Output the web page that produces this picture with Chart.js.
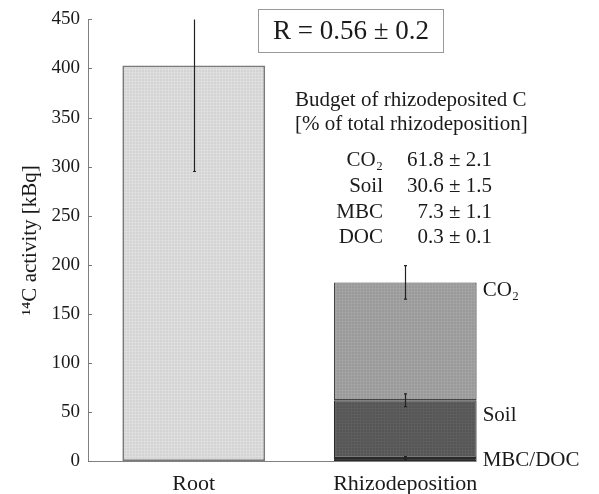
<!DOCTYPE html>
<html>
<head>
<meta charset="utf-8">
<script src="https://cdn.jsdelivr.net/npm/chart.js@4/dist/chart.umd.min.js"></script>
<style>
html,body{margin:0;padding:0;background:#fff;}
#wrap{width:599px;height:494px;position:relative;}
</style>
</head>
<body>
<div id="wrap"><canvas id="c" width="599" height="494"></canvas></div>
<script>
// ---- data ----
const categories = ["Root", "Rhizodeposition"];
const rootValues = [403, 0];
const mbcDocValues = [0, 3];
const soilValues = [0, 59];
const co2Values = [0, 120];
// error bars: [category index, top value of segment, +/- error]
const errorBars = [
  [0, 403, 108],
  [1, 182, 17],
  [1, 62, 6.5],
  [1, 3, 1.5]
];
const yTicks = [0, 50, 100, 150, 200, 250, 300, 350, 400, 450];
const rText = "R = 0.56 ± 0.2";
const budgetTitle = ["Budget of rhizodeposited C", "[% of total rhizodeposition]"];
const budgetNames = ["CO₂", "Soil", "MBC", "DOC"];
const budgetValues = ["61.8 ± 2.1", "30.6 ± 1.5", "7.3 ± 1.1", "0.3 ± 0.1"];
const segmentLabels = [["CO₂", 182], ["Soil", 62], ["MBC/DOC", 3]];

const SERIF = "'Liberation Serif', 'Times New Roman', serif";

function pattern(base, line) {
  const p = document.createElement('canvas');
  p.width = 3; p.height = 3;
  const g = p.getContext('2d');
  g.fillStyle = base; g.fillRect(0, 0, 3, 3);
  g.fillStyle = line; g.fillRect(0, 0, 3, 1); g.fillRect(0, 0, 1, 3);
  return g.createPattern(p, 'repeat');
}
const ctx0 = document.getElementById('c').getContext('2d');

const overlay = {
  id: 'overlay',
  beforeDatasetsDraw(chart) {
    const ctx = chart.ctx, a = chart.chartArea;
    const bar = chart.getDatasetMeta(3).data[1];
    ctx.save();
    ctx.strokeStyle = '#808080'; ctx.lineWidth = 1;
    ctx.beginPath();
    ctx.moveTo(a.left, a.bottom + 0.5);
    ctx.lineTo(bar.x + bar.width / 2, a.bottom + 0.5);
    ctx.stroke();
    ctx.restore();
  },
  afterDatasetsDraw(chart) {
    const ctx = chart.ctx, x = chart.scales.x, y = chart.scales.y, a = chart.chartArea;
    const bar = chart.getDatasetMeta(3).data[1];
    // inward y ticks
    ctx.save();
    ctx.strokeStyle = '#777'; ctx.lineWidth = 1;
    yTicks.forEach(v => {
      const py = Math.round(y.getPixelForValue(v)) + 0.5;
      ctx.beginPath(); ctx.moveTo(a.left, py); ctx.lineTo(a.left + 4, py); ctx.stroke();
    });
    ctx.restore();
    // error bars
    ctx.save();
    ctx.beginPath(); ctx.rect(a.left, a.top, a.right - a.left, a.bottom - a.top + 2); ctx.clip();
    ctx.strokeStyle = '#222'; ctx.lineWidth = 1.2;
    errorBars.forEach(([i, v, e]) => {
      const px = Math.round(x.getPixelForValue(i)) + 0.5;
      const y1 = y.getPixelForValue(v + e), y2 = y.getPixelForValue(v - e);
      ctx.beginPath(); ctx.moveTo(px, y1); ctx.lineTo(px, y2);
      ctx.moveTo(px - 1.5, y1); ctx.lineTo(px + 1.5, y1);
      ctx.moveTo(px - 1.5, y2); ctx.lineTo(px + 1.5, y2);
      ctx.stroke();
    });
    ctx.restore();
    // texts
    ctx.save();
    ctx.textBaseline = 'middle';
    // R box
    ctx.fillStyle = '#fff';
    ctx.fillRect(258, 9, 185, 43);
    ctx.strokeStyle = '#999'; ctx.lineWidth = 1;
    ctx.strokeRect(258.5, 9.5, 185, 43);
    ctx.fillStyle = '#1a1a1a';
    ctx.font = "27px " + SERIF;
    ctx.textAlign = 'center';
    ctx.fillText(rText, 351, 32);
    // budget
    ctx.font = "21px " + SERIF;
    ctx.textAlign = 'left';
    ctx.fillText(budgetTitle[0], 295, 100);
    ctx.fillText(budgetTitle[1], 295, 124);
    const rowsY = [160, 186, 212, 237];
    budgetNames.forEach((n, k) => {
      ctx.textAlign = 'right';
      ctx.fillText(n, 383, rowsY[k]);
      ctx.fillText(budgetValues[k], 492, rowsY[k]);
    });
    // segment labels
    ctx.textAlign = 'left';
    const offs = [8, 15, 2];
    const lx = bar.x + bar.width / 2 + 6;
    segmentLabels.forEach(([t, v], k) => {
      ctx.fillText(t, lx, y.getPixelForValue(v) + offs[k]);
    });
    ctx.restore();
  }
};

new Chart(ctx0, {
  type: 'bar',
  data: {
    labels: categories,
    datasets: [
      { label: 'Root', data: rootValues, backgroundColor: pattern('#d3d3d3', '#dedede'), borderColor: '#7a7a7a', borderWidth: 1.8, borderSkipped: false },
      { label: 'MBC/DOC', data: mbcDocValues, backgroundColor: '#3a3a3a', borderColor: '#2a2a2a', borderWidth: 1, borderSkipped: false },
      { label: 'Soil', data: soilValues, backgroundColor: pattern('#555555', '#5e5e5e'), borderColor: '#2a2a2a', borderWidth: 1.2, borderSkipped: false },
      { label: 'CO2', data: co2Values, backgroundColor: pattern('#999999', '#a3a3a3'), borderColor: '#444', borderWidth: 1.2, borderSkipped: false }
    ]
  },
  options: {
    responsive: false,
    animation: false,
    devicePixelRatio: 1,
    datasets: { bar: { categoryPercentage: 1, barPercentage: 0.675 } },
    layout: { padding: { top: 12, right: 88, left: 1, bottom: 0 } },
    plugins: { legend: { display: false }, tooltip: { enabled: false } },
    scales: {
      x: {
        stacked: true,
        grid: { display: false, drawTicks: false },
        border: { display: false },
        ticks: { color: '#1a1a1a', font: { family: SERIF, size: 22 }, padding: 10 },
        afterFit(s) { s.height = 33; }
      },
      y: {
        stacked: true,
        min: 0, max: 450,
        afterBuildTicks(s) { s.ticks = yTicks.map(v => ({ value: v })); },
        grid: { display: false, drawTicks: false },
        border: { display: true, color: '#808080', width: 1 },
        ticks: { color: '#1a1a1a', font: { family: SERIF, size: 19 }, padding: 8 },
        title: { display: true, text: '¹⁴C activity [kBq]', color: '#1a1a1a', font: { family: SERIF, size: 21 }, padding: { top: 17, bottom: 0 } },
        afterFit(s) { s.width = 87; }
      }
    }
  },
  plugins: [overlay]
});
</script>
</body>
</html>
